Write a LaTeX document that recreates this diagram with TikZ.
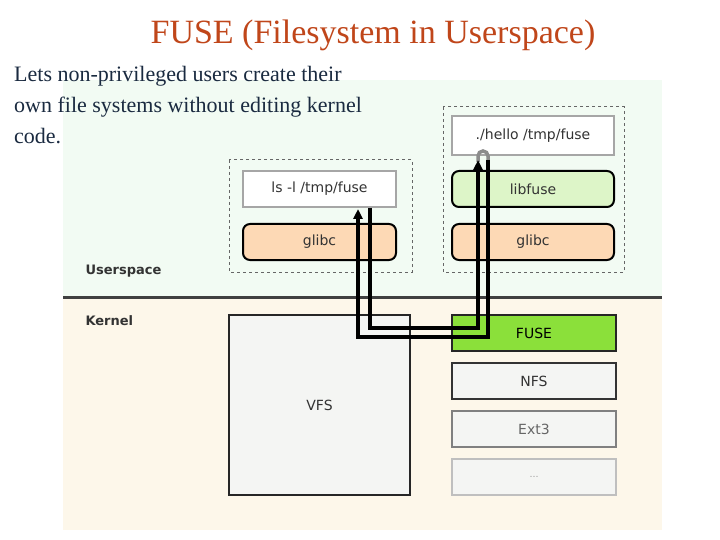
\documentclass[tikz,border=0pt]{standalone}
\usepackage{fontspec}
\setmainfont{Liberation Serif}
\newfontfamily\djsans{DejaVu Sans}
\usetikzlibrary{arrows.meta}
\definecolor{titlec}{HTML}{C0461A}
\definecolor{bodyc}{HTML}{1A2A40}
\definecolor{usbg}{HTML}{F2FBF3}
\definecolor{kbg}{HTML}{FDF7EA}
\definecolor{peach}{HTML}{FDD9B5}
\definecolor{lgreen}{HTML}{DDF5C8}
\definecolor{fgreen}{HTML}{8BE03A}
\definecolor{lgray}{HTML}{F4F5F3}
\begin{document}
\begin{tikzpicture}[x=1pt,y=-1pt,
  box/.style={draw, line width=2pt, minimum height=36pt, inner sep=0pt, font=\djsans\fontsize{14}{16}\selectfont, text=black!80},
  app/.style={box, draw=black!35, fill=white, minimum width=153pt},
  lib/.style={box, draw=black, rounded corners=7pt, minimum width=153pt},
  fs/.style={box, minimum width=164pt, fill=lgray},
  dbox/.style={draw=black!60, dashed, line width=1pt},
  lbl/.style={font=\djsans\bfseries\fontsize{13}{15}\selectfont, text=black!80, anchor=west},
  flow/.style={line width=3.5pt, black},
  tip/.style={-{Triangle[length=10pt,width=9pt]}}]
\useasboundingbox (0,0) rectangle (720,540);
\fill[white] (0,0) rectangle (720,540);
\fill[usbg] (63,80) rectangle (662,297);
\fill[kbg] (63,297) rectangle (662,530);
\draw[line width=3pt, black!75] (63,297) -- (662,297);
\node[font=\fontsize{34}{38}\selectfont, text=titlec] (title) at (373,35) {FUSE (Filesystem in Userspace)};
\node[font=\fontsize{22}{31}\selectfont, text=bodyc, anchor=north west, align=left, inner sep=0pt] (body) at (14,66)
 {Lets non-privileged users create their\\own file systems without editing kernel\\code.};
\node[lbl] (us) at (82,271) {Userspace};
\node[lbl] (kn) at (82,321) {Kernel};
\draw[dbox] (229,160) rectangle (412,272);
\draw[dbox] (443,107) rectangle (624,272);
\node[app] (ls) at (319.5,189) {ls -l /tmp/fuse};
\node[lib, fill=peach] (glibcA) at (319.5,242) {glibc};
\node[app, minimum width=162pt, minimum height=39pt] (hello) at (533,135.5) {./hello /tmp/fuse};
\node[lib, fill=lgreen, minimum width=162pt] (libfuse) at (533,189) {libfuse};
\node[lib, fill=peach, minimum width=162pt] (glibcB) at (533,242) {glibc};
\node[box, draw=black!85, fill=lgray, minimum width=181pt, minimum height=180pt] (vfs) at (319.5,405) {VFS};
\node[fs, draw=black!85, fill=fgreen, text=black] (fuse) at (534,333) {FUSE};
\node[fs, draw=black!80] (nfs) at (534,381) {NFS};
\node[fs, draw=black!50, text=black!60] (ext3) at (534,429) {Ext3};
\node[fs, draw=black!25, text=black!40] (dots) at (534,477) {\fontsize{9}{10}\selectfont\dots};
\coordinate (a1) at (370,208);
\coordinate (a2) at (478,160);
\coordinate (b1) at (488,160);
\coordinate (b2) at (358,209);
\draw[flow, black!45] (478,162) -- (478,156) arc[start angle=180, end angle=0, radius=5pt] -- (488,162);
\draw[flow, tip] (a1) -- (370,328) -- (478,328) -- (a2);
\draw[flow, tip] (b1) -- (488,337) -- (358,337) -- (b2);
\end{tikzpicture}
\end{document}
